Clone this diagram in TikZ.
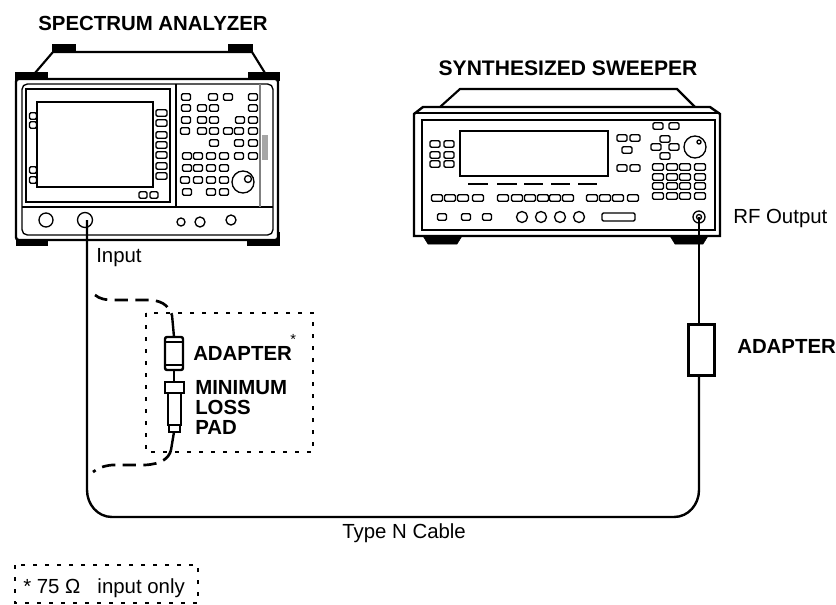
\documentclass[tikz,border=0pt]{standalone}
\usepackage{fontspec}
\setmainfont{Liberation Sans}
\usetikzlibrary{calc}
\tikzset{
  hw/.style={draw=black,line width=1pt},
  keycap/.style={draw=black,line width=1pt,rounded corners=1pt},
  footpad/.style={fill=black,draw=black},
  cable/.style={draw=black,line width=1.8pt},
  altcable/.style={draw=black,line width=2pt,dash pattern=on 10pt off 5.5pt},
  dotbox/.style={draw=black,line width=1.7pt,dash pattern=on 3.2pt off 5.8pt},
  title/.style={font=\bfseries\fontsize{15.3pt}{16pt}\selectfont,anchor=base},
  boldlabel/.style={font=\bfseries\fontsize{15.3pt}{16pt}\selectfont,anchor=base west,inner sep=0pt},
  plainlabel/.style={font=\fontsize{15.3pt}{16pt}\selectfont,anchor=base west,inner sep=0pt}
}
\newcommand{\keyat}[3]{\draw[keycap] ($(#1,#2)-(#3/2,3.2)$) rectangle ($(#1,#2)+(#3/2,3.2)$);}
\begin{document}
\begin{tikzpicture}[x=.75pt,y=-.75pt]
\useasboundingbox (0,0) rectangle (836,604);
% spectrum analyzer
\fill[footpad] (15,72) rectangle (47,80); \fill[footpad] (248,72) rectangle (279,80);
\fill[footpad] (52,44) rectangle (75,52); \fill[footpad] (228,44) rectangle (252,52);
\fill[footpad] (16,232) rectangle (47,245); \fill[footpad] (247,232) rectangle (279,245);
\draw[hw,line width=1.6pt] (35,73)--(53,52)--(252,52)--(265,73);
\draw[hw,fill=white,line width=1.8pt,rounded corners=2pt] (16,79) rectangle (278,240);
\draw[hw,rounded corners=4pt] (22,84) rectangle (273,235);
\draw[hw] (22,207)--(273,207);
\draw[hw] (26,89) rectangle (170,202);
\draw[hw] (37,102) rectangle (153,187);
\draw[hw] (176,84)--(176,207);
\draw[gray,line width=1pt] (260,84)--(260,207);
\fill[gray!70] (262,135) rectangle (268,160);
\foreach \y in {113,123,135,145,155,166,176} {\keyat{161.5}{\y}{11}}
\foreach \y in {116,125,170,180} {\keyat{33}{\y}{7}}
\foreach \x in {143,154} {\keyat{\x}{195}{8}}
\foreach \x/\y in {186/97,213/97,228/97,253/97,186/108,202/108,214/108,253/108,186/120,202/120,214/120,240/120,253/120,
  185/131,202/131,214/131,228/131,239/131,253/131,214/143,239/143,253/143,187/156,198/156,211/156,224/156,239/156,253/156,
  187/168,198/168,211/168,224/168,185/180,198/180,211/180,224/180,187/192,211/192,224/192} {\keyat{\x}{\y}{9}}
\draw[hw] (243,182) circle (11);
\draw[hw] (248,179) circle (3.5);
\coordinate (inputport) at (87,220);
\draw[hw] (46,220) circle (7);
\draw[hw] (85,220) circle (7.5);
\draw[hw] (181,222) circle (4);
\draw[hw] (200,222) circle (5);
\draw[hw] (231,220) circle (5);
\node[title] (analyzername) at (153,30) {SPECTRUM ANALYZER};
% synthesized sweeper
\fill[footpad] (423,236)--(428,244)--(457,244)--(462,236)--cycle;
\fill[footpad] (670,236)--(675,244)--(703,244)--(708,236)--cycle;
\draw[hw,line width=1.6pt] (440,107)--(460,89)--(677,89)--(695,107);
\draw[hw,fill=white,line width=1.8pt] (414,114)--(423,107)--(710,107)--(720,114)--(720,236)--(414,236)--cycle;
\draw[hw] (414,113)--(720,113);
\draw[hw] (422,120) rectangle (715,230);
\draw[hw] (460,131) rectangle (608,176);
\foreach \x/\y in {435/144,449/144,435/155,449/155,435/164,449/164,622/138,635/138,627/150,622/168,635/168,
  658/126,674/126,665/139,656/147,674/147,665/156} {\keyat{\x}{\y}{10}}
\foreach \x in {658,672,685,700} \foreach \y in {167,177,186,196} {\keyat{\x}{\y}{11}}
\foreach \xa/\xb in {468/488,497/517,524/543,551/570,578/597} {\draw[black,line width=1.5pt] (\xa,184)--(\xb,184);}
\foreach \x in {437,450,463,478,503,517,530,543,555,568,592,605,618,633} {\keyat{\x}{198}{11}}
\foreach \x in {442,466,487} {\keyat{\x}{217}{9}}
\foreach \x in {522,541,560,579} {\draw[hw] (\x,217) circle (5.5);}
\draw[keycap] (602,213) rectangle (635,221);
\draw[hw] (695,147) circle (11);
\draw[hw] (699,142) circle (2);
\coordinate (outputport) at (699,217);
\draw[hw] (outputport) circle (6);
\draw[hw] (outputport) circle (2.5);
\node[title,font=\bfseries\fontsize{15.8pt}{16pt}\selectfont] (sweepername) at (568,75) {SYNTHESIZED SWEEPER};
% cables
\node[hw,line width=2.2pt,fill=white,minimum width=19.5pt,minimum height=38.5pt,inner sep=0pt] (rfadapter) at (701.5,350) {};
\draw[cable] (inputport)--(87,490) to[out=270,in=180] (112,517)--(674,517) to[out=0,in=270] (699,490)--(outputport |- rfadapter.south);
\draw[cable] (outputport |- rfadapter.north)--(outputport);
% alternate path through the pad
\coordinate (paddrop) at (172,315); \coordinate (padrise) at (171,450);
\draw[altcable] (95,295) .. controls (100,299) and (105,300) .. (115,300)--(147,300) .. controls (160,300) and (168,304) .. (paddrop);
\draw[altcable] (padrise) .. controls (169,458) and (162,464) .. (145,465)--(112,465) .. controls (102,466) and (97,469) .. (93,472);
\draw[dotbox] (146,313) rectangle (313,452);
\draw[dotbox] (15,565) rectangle (198,603);
% adapter and pad
\draw[cable] (paddrop)--(174,337);
\draw[hw,line width=1.8pt,rounded corners=1.5pt] (165,337) rectangle (183,370);
\draw[hw,line width=1.6pt] (166,342)--(182,342) (166,365)--(182,365);
\draw[cable] (174,370)--(174,382);
\draw[hw,line width=1.8pt] (165,382) rectangle (184,393);
\draw[hw,line width=1.8pt] (168,393) rectangle (181,425);
\draw[hw,line width=1.8pt] (169,425) rectangle (180,432);
\draw[cable] (174,432)--(padrise);
% labels
\node[boldlabel] (adapterlabel) at (193,360) {ADAPTER};
\node[plainlabel,font=\fontsize{11pt}{11pt}\selectfont] (adapterstar) at (290,344) {*};
\node[boldlabel] (padlabela) at (195,394) {MINIMUM};
\node[boldlabel] (padlabelb) at (195,414) {LOSS};
\node[boldlabel] (padlabelc) at (195,434) {PAD};
\node[boldlabel] (rfadapterlabel) at (737,353) {ADAPTER};
\node[plainlabel] (inputlabel) at (96,262) {Input};
\node[plainlabel] (outputlabel) at (733,223) {RF Output};
\node[plainlabel] (cablelabel) at (342,538) {Type N Cable};
\node[plainlabel] (footnote) at (23,593) {* 75 Ω\ \ \ input only};
\end{tikzpicture}
\end{document}
